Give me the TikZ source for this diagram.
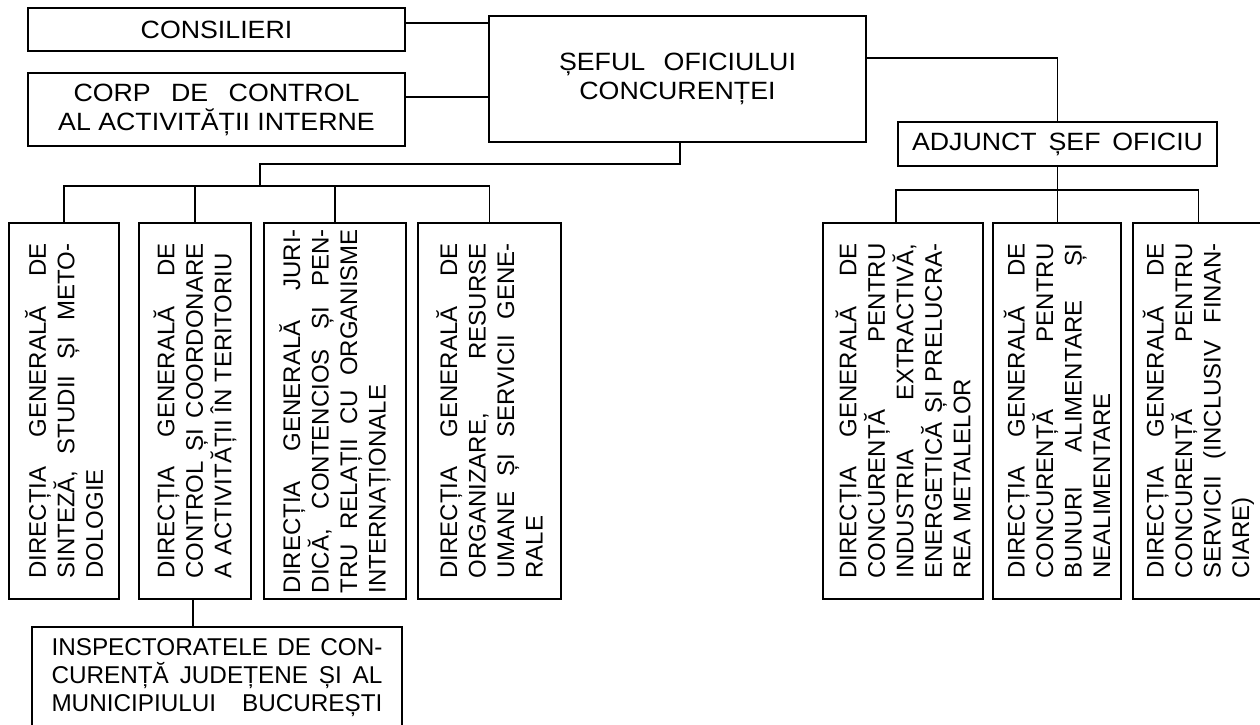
\documentclass[tikz,border=0pt]{standalone}
\usepackage{fontspec}
\setmainfont{Liberation Sans}
\newfontfamily\widefont[FakeStretch=1.07]{Liberation Sans}
\newcommand{\vlines}[2]{\rotatebox{90}{\parbox{#1}{\fontsize{24}{28.5}\selectfont #2}}}
\newcommand{\jline}[1]{\makebox[\linewidth][s]{#1}}
\begin{document}
\begin{tikzpicture}[x=1pt,y=-1pt,
  box/.style={draw, line width=1.8pt, inner sep=0pt},
  vbox/.style={box, minimum height=376pt},
  conn/.style={line width=1.8pt},
  htext/.style={font=\widefont\fontsize{25}{29}\selectfont, align=center}]
\useasboundingbox (0,0) rectangle (1260,724);
\fill[white] (0,0) rectangle (1260,724);
\clip (0,0) rectangle (1260,724);

% top boxes
\node[box, htext, minimum width=377pt, minimum height=43pt] (cons) at (216.5,29.5) {CONSILIERI};
\node[box, htext, minimum width=377pt, minimum height=73pt] (corp) at (216.5,109.5)
  {\makebox[286pt][s]{CORP DE CONTROL}\\AL ACTIVITĂȚII INTERNE};
\node[box, htext, minimum width=377pt, minimum height=126pt] (sef) at (677.5,79)
  {\makebox[237pt][s]{ȘEFUL OFICIULUI}\\CONCURENȚEI};
\node[box, htext, minimum width=319pt, minimum height=44pt] (adj) at (1057.5,144)
  {\makebox[291pt][s]{ADJUNCT ȘEF OFICIU}};

% left directorates
\node[vbox, minimum width=110pt] (d1) at (64,411) {\vlines{335pt}{%
  \jline{DIRECȚIA GENERALĂ DE}\\
  \jline{SINTEZĂ, STUDII ȘI METO-}\\
  DOLOGIE}};
\node[vbox, minimum width=112pt] (d2) at (195,411) {\vlines{335pt}{%
  \jline{DIRECȚIA GENERALĂ DE}\\
  \jline{CONTROL ȘI COORDONARE}\\
  A ACTIVITĂȚII ÎN TERITORIU}};
\node[vbox, minimum width=142pt] (d3) at (335,411) {\vlines{364pt}{%
  \jline{DIRECȚIA GENERALĂ JURI-}\\
  \jline{DICĂ, CONTENCIOS ȘI PEN-}\\
  \jline{TRU RELAȚII CU ORGANISME}\\
  INTERNAȚIONALE}};
\node[vbox, minimum width=143pt] (d4) at (489.5,411) {\vlines{335pt}{%
  \jline{DIRECȚIA GENERALĂ DE}\\
  \jline{ORGANIZARE, RESURSE}\\
  \jline{UMANE ȘI SERVICII GENE-}\\
  RALE}};

% right directorates
\node[vbox, minimum width=160pt] (d5) at (903,411) {\vlines{335pt}{%
  \jline{DIRECȚIA GENERALĂ DE}\\
  \jline{CONCURENȚĂ PENTRU}\\
  \jline{INDUSTRIA EXTRACTIVĂ,}\\
  \jline{ENERGETICĂ ȘI PRELUCRA-}\\
  REA METALELOR}};
\node[vbox, minimum width=128pt] (d6) at (1057,411) {\vlines{335pt}{%
  \jline{DIRECȚIA GENERALĂ DE}\\
  \jline{CONCURENȚĂ PENTRU}\\
  \jline{BUNURI ALIMENTARE ȘI}\\
  NEALIMENTARE}};
\node[vbox, minimum width=131pt] (d7) at (1198.5,411) {\vlines{335pt}{%
  \jline{DIRECȚIA GENERALĂ DE}\\
  \jline{CONCURENȚĂ PENTRU}\\
  \jline{SERVICII (INCLUSIV FINAN-}\\
  CIARE)}};

% inspectorate
\node[box, minimum width=370pt, minimum height=120pt, anchor=north] (insp) at (217,626) {};
\node[anchor=north, inner sep=0pt, align=left, font=\fontsize{24.3}{28}\selectfont] (insptext) at ([yshift=-12pt]insp.north)
  {\makebox[331pt][s]{INSPECTORATELE DE CON-}\\
   \makebox[331pt][s]{CURENȚĂ JUDEȚENE ȘI AL}\\
   \makebox[331pt][s]{MUNICIPIULUI BUCUREȘTI}};

% connectors
\coordinate (lbar) at (260,186);
\coordinate (rbar) at (1057,190);
\draw[conn] ([yshift=6.5pt]cons.east) -- ([yshift=6.5pt]cons.east -| sef.west);
\draw[conn] ([yshift=12.5pt]corp.east) -- ([yshift=12.5pt]corp.east -| sef.west);
\draw[conn] ([xshift=2.5pt]sef.south) -- ++(0,21) -| (lbar);
\draw[conn] (d1.north) |- (d4.north |- lbar) -- (d4.north);
\draw[conn] (d2.north) -- (d2.north |- lbar);
\draw[conn] (d3.north) -- (d3.north |- lbar);
\draw[conn] ([yshift=21pt]sef.east) -| (adj.north);
\draw[conn] (adj.south) -- (adj.south |- d6.north);
\draw[conn] ([xshift=-7pt]d5.north) |- (d7.north |- rbar) -- (d7.north);
\draw[conn] ([xshift=-2pt]d2.south) -- ([xshift=-2pt]d2.south |- insp.north);
\end{tikzpicture}
\end{document}
